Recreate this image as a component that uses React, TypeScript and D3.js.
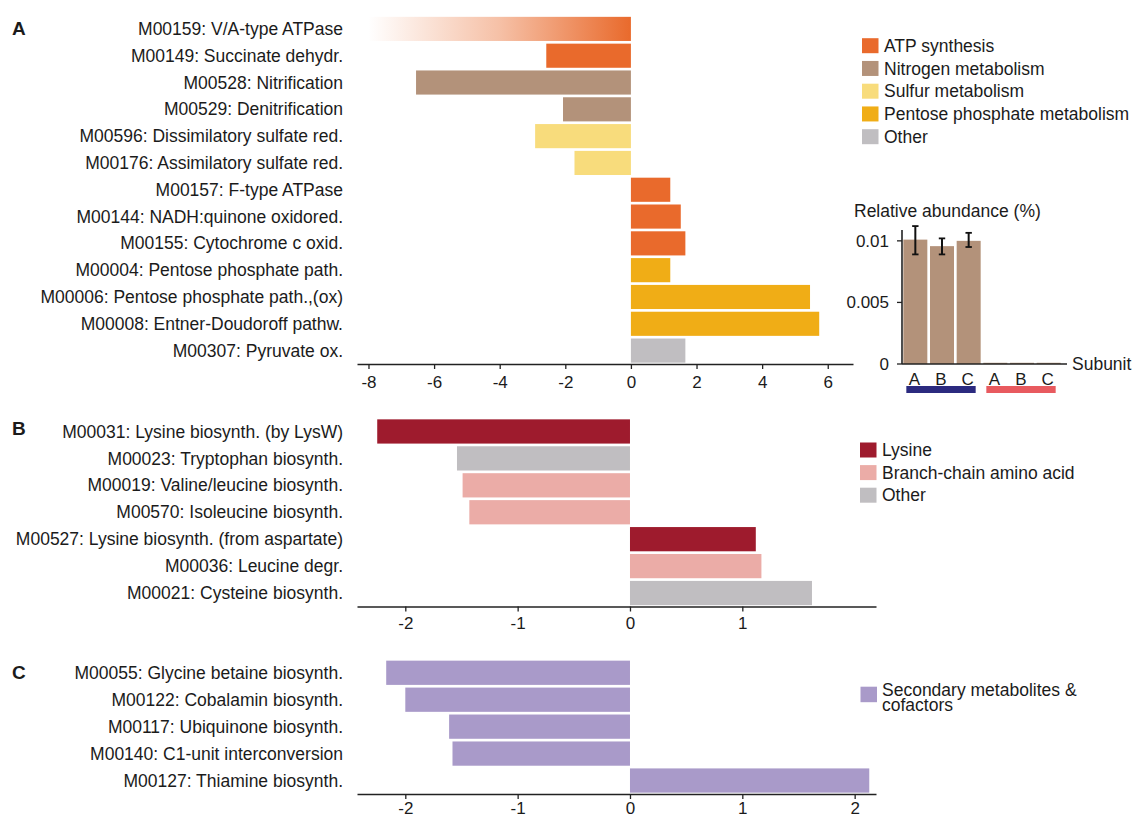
import * as d3 from "d3";
import { useEffect, useRef } from "react";

// panel A: energy metabolism modules
const panelALabels = [
  "M00159: V/A-type ATPase",
  "M00149: Succinate dehydr.",
  "M00528: Nitrification",
  "M00529: Denitrification",
  "M00596: Dissimilatory sulfate red.",
  "M00176: Assimilatory sulfate red.",
  "M00157: F-type ATPase",
  "M00144: NADH:quinone oxidored.",
  "M00155: Cytochrome c oxid.",
  "M00004: Pentose phosphate path.",
  "M00006: Pentose phosphate path.,(ox)",
  "M00008: Entner-Doudoroff pathw.",
  "M00307: Pyruvate ox."
];
const panelAValues = [-8, -2.58, -6.55, -2.07, -2.92, -1.72, 1.2, 1.52, 1.66, 1.2, 5.46, 5.74, 1.66];
const panelAGroups = ["atp", "atp", "nit", "nit", "sul", "sul", "atp", "atp", "atp", "pen", "pen", "pen", "oth"];
const panelATicks = [-8, -6, -4, -2, 0, 2, 4, 6];

// panel B: amino acid modules
const panelBLabels = [
  "M00031: Lysine biosynth. (by LysW)",
  "M00023: Tryptophan biosynth.",
  "M00019: Valine/leucine biosynth.",
  "M00570: Isoleucine biosynth.",
  "M00527: Lysine biosynth. (from aspartate)",
  "M00036: Leucine degr.",
  "M00021: Cysteine biosynth."
];
const panelBValues = [-2.25, -1.54, -1.49, -1.43, 1.12, 1.17, 1.62];
const panelBGroups = ["lys", "oth", "bca", "bca", "lys", "bca", "oth"];
const panelBTicks = [-2, -1, 0, 1];

// panel C: cofactor modules
const panelCLabels = [
  "M00055: Glycine betaine biosynth.",
  "M00122: Cobalamin biosynth.",
  "M00117: Ubiquinone biosynth.",
  "M00140: C1-unit interconversion",
  "M00127: Thiamine biosynth."
];
const panelCValues = [-2.17, -2.0, -1.61, -1.58, 2.13];
const panelCGroups = ["sec", "sec", "sec", "sec", "sec"];
const panelCTicks = [-2, -1, 0, 1, 2];

// inset: relative abundance of subunits
const subunitLabels = ["A", "B", "C", "A", "B", "C"];
const subunitValues = [0.0101, 0.00957, 0.01, 0.0001, 0.0001, 0.0001];
const subunitLow = [0.0089, 0.0089, 0.0095, 0.0001, 0.0001, 0.0001];
const subunitHigh = [0.0112, 0.0102, 0.01065, 0.0001, 0.0001, 0.0001];
const insetTicks = [0, 0.005, 0.01];
const insetTickLabels = ["0", "0.005", "0.01"];

const legendA = [
  ["atp", "ATP synthesis"],
  ["nit", "Nitrogen metabolism"],
  ["sul", "Sulfur metabolism"],
  ["pen", "Pentose phosphate metabolism"],
  ["oth", "Other"]
];
const legendB = [
  ["lys", "Lysine"],
  ["bca", "Branch-chain amino acid"],
  ["oth", "Other"]
];

const colors: Record<string, string> = {
  atp: "#e96a2c",
  nit: "#b3927a",
  sul: "#f8dc7c",
  pen: "#f0ad16",
  oth: "#c0bec1",
  lys: "#9e1b2d",
  bca: "#ebaca7",
  sec: "#a99ac9"
};

const FONT = "'Liberation Sans', Arial, Helvetica, sans-serif";
const INK = "#1b1b1b";

export default function App() {
  const ref = useRef<SVGSVGElement | null>(null);

  useEffect(() => {
    if (!ref.current) {
      return;
    }
    const svg = d3.select(ref.current);
    svg.selectAll("*").remove();

    const defs = svg.append("defs");
    const grad = defs.append("linearGradient").attr("id", "atpFade").attr("x1", 0).attr("x2", 1).attr("y1", 0).attr("y2", 0);
    grad.append("stop").attr("offset", "0%").attr("stop-color", colors.atp).attr("stop-opacity", 0);
    grad.append("stop").attr("offset", "50%").attr("stop-color", colors.atp).attr("stop-opacity", 0.42);
    grad.append("stop").attr("offset", "100%").attr("stop-color", colors.atp).attr("stop-opacity", 1);

    const drawPanel = (
      letter: string,
      labels: string[],
      values: number[],
      groups: string[],
      ticks: number[],
      domain: [number, number],
      top: number,
      axisY: number,
      xEnd: number,
      letterY: number,
      tickDy: string
    ) => {
      const g = svg.append("g");
      const x = d3.scaleLinear().domain(domain).range([357, xEnd]);
      const y = d3.scaleBand<string>().domain(labels).range([top, axisY]).paddingInner(0.1).paddingOuter(0.05);

      g.selectAll("rect.bar")
        .data(labels)
        .join("rect")
        .attr("x", (_, i) => x(Math.min(0, values[i])))
        .attr("y", (d) => y(d) ?? 0)
        .attr("width", (_, i) => Math.abs(x(values[i]) - x(0)))
        .attr("height", y.bandwidth())
        .attr("fill", (_, i) => (letter === "A" && i === 0 ? "url(#atpFade)" : colors[groups[i]]));

      g.selectAll("text.lab")
        .data(labels)
        .join("text")
        .attr("x", 343)
        .attr("y", (d) => (y(d) ?? 0) + y.bandwidth() / 2)
        .attr("dy", "0.35em")
        .attr("text-anchor", "end")
        .attr("font-size", 17.5)
        .attr("fill", INK)
        .text((d) => d);

      const axis = g.append("g").attr("transform", `translate(0,${axisY})`)
        .call(d3.axisBottom(x).tickValues(ticks).tickSize(5).tickSizeOuter(0).tickFormat((d) => d3.format("")(d as number).replace("−", "-")));
      axis.select(".domain").attr("stroke", "#222").attr("stroke-width", 1.6);
      axis.selectAll(".tick line").attr("stroke", "#222").attr("stroke-width", 1.3);
      axis.selectAll(".tick text").attr("font-size", 17).attr("font-family", FONT).attr("fill", INK).attr("dy", tickDy);

      g.append("text")
        .attr("x", 12)
        .attr("y", letterY)
        .attr("dy", "0.35em")
        .attr("font-weight", "bold")
        .attr("font-size", 19)
        .attr("fill", INK)
        .text(letter);
    };

    drawPanel("A", panelALabels, panelAValues, panelAGroups, panelATicks, [-8.35, 6.77], 15.5, 364, 853, 28, "0.95em");
    drawPanel("B", panelBLabels, panelBValues, panelBGroups, panelBTicks, [-2.43, 2.19], 418, 606.5, 876, 428, "0.85em");
    drawPanel("C", panelCLabels, panelCValues, panelCGroups, panelCTicks, [-2.43, 2.19], 659.3, 794, 876, 672, "0.72em");

    // legends
    const drawLegend = (items: string[][], x0: number, y0: number, step: number) => {
      const lg = svg.append("g");
      items.forEach(([key, name], i) => {
        lg.append("rect").attr("x", x0).attr("y", y0 + i * step - 7.5).attr("width", 16.5).attr("height", 15).attr("fill", colors[key]);
        lg.append("text")
          .attr("x", x0 + 22)
          .attr("y", y0 + i * step)
          .attr("dy", "0.35em")
          .attr("font-size", 17.5)
          .attr("fill", INK)
          .text(name);
      });
    };
    drawLegend(legendA, 862, 45.7, 22.75);
    drawLegend(legendB, 860, 450, 22.6);

    const lc = svg.append("g");
    lc.append("rect").attr("x", 860.5).attr("y", 686.7).attr("width", 16.5).attr("height", 15.5).attr("fill", colors.sec);
    lc.append("text").attr("x", 882).attr("y", 689.5).attr("dy", "0.35em").attr("font-size", 17.5).attr("fill", INK).text("Secondary metabolites &");
    lc.append("text").attr("x", 882).attr("y", 704.5).attr("dy", "0.35em").attr("font-size", 17.5).attr("fill", INK).text("cofactors");

    // inset abundance chart
    const inset = svg.append("g");
    const ix = d3.scaleBand<number>().domain(d3.range(subunitLabels.length)).range([902, 1062]).paddingInner(0.1).paddingOuter(0.05);
    const iy = d3.scaleLinear().domain([0, 0.0108]).range([364, 231]);

    inset.selectAll("rect.sub")
      .data(subunitValues)
      .join("rect")
      .attr("x", (_, i) => ix(i) ?? 0)
      .attr("y", (d) => iy(d))
      .attr("width", ix.bandwidth())
      .attr("height", (d) => iy(0) - iy(d))
      .attr("fill", colors.nit);

    subunitValues.forEach((v, i) => {
      if (subunitHigh[i] - subunitLow[i] < 0.0002) {
        return;
      }
      const cx = (ix(i) ?? 0) + ix.bandwidth() / 2;
      inset.append("line").attr("x1", cx).attr("x2", cx).attr("y1", iy(subunitLow[i])).attr("y2", iy(subunitHigh[i])).attr("stroke", "#111").attr("stroke-width", 2);
      [subunitLow[i], subunitHigh[i]].forEach((e) => {
        inset.append("line").attr("x1", cx - 3.2).attr("x2", cx + 3.2).attr("y1", iy(e)).attr("y2", iy(e)).attr("stroke", "#111").attr("stroke-width", 1.8);
      });
    });

    inset.append("line").attr("x1", 902).attr("x2", 902).attr("y1", 230).attr("y2", 364).attr("stroke", "#222").attr("stroke-width", 1.6);
    inset.append("line").attr("x1", 902).attr("x2", 1067).attr("y1", 364).attr("y2", 364).attr("stroke", "#222").attr("stroke-width", 1.6);

    insetTicks.forEach((t, i) => {
      inset.append("line").attr("x1", 897).attr("x2", 902).attr("y1", iy(t)).attr("y2", iy(t)).attr("stroke", "#222").attr("stroke-width", 1.3);
      inset.append("text")
        .attr("x", 889)
        .attr("y", iy(t))
        .attr("dy", "0.35em")
        .attr("text-anchor", "end")
        .attr("font-size", 17)
        .attr("fill", INK)
        .text(insetTickLabels[i]);
    });

    subunitLabels.forEach((s, i) => {
      inset.append("text")
        .attr("x", (ix(i) ?? 0) + ix.bandwidth() / 2 - 1)
        .attr("y", 379)
        .attr("dy", "0.35em")
        .attr("text-anchor", "middle")
        .attr("font-size", 17)
        .attr("fill", INK)
        .text(s);
    });

    [[0, 2, "#2b2a7f"], [3, 5, "#e85a5f"]].forEach(([a, b, c]) => {
      const x1 = (ix(a as number) ?? 0) + 3;
      const x2 = (ix(b as number) ?? 0) + ix.bandwidth() - 5;
      inset.append("rect").attr("x", x1).attr("y", 386).attr("width", x2 - x1).attr("height", 7).attr("fill", c as string);
    });

    inset.append("text").attr("x", 1072).attr("y", 364).attr("dy", "0.35em").attr("font-size", 17.5).attr("fill", INK).text("Subunit");
    inset.append("text").attr("x", 854).attr("y", 211).attr("dy", "0.35em").attr("font-size", 17.5).attr("fill", INK).text("Relative abundance (%)");
  }, []);

  return (
    <svg
      ref={ref}
      width={1132}
      height={820}
      style={{ position: "absolute", left: 0, top: 0, background: "#fff" }}
      fontFamily={FONT}
      aria-label="module enrichment bar charts"
    />
  );
}
